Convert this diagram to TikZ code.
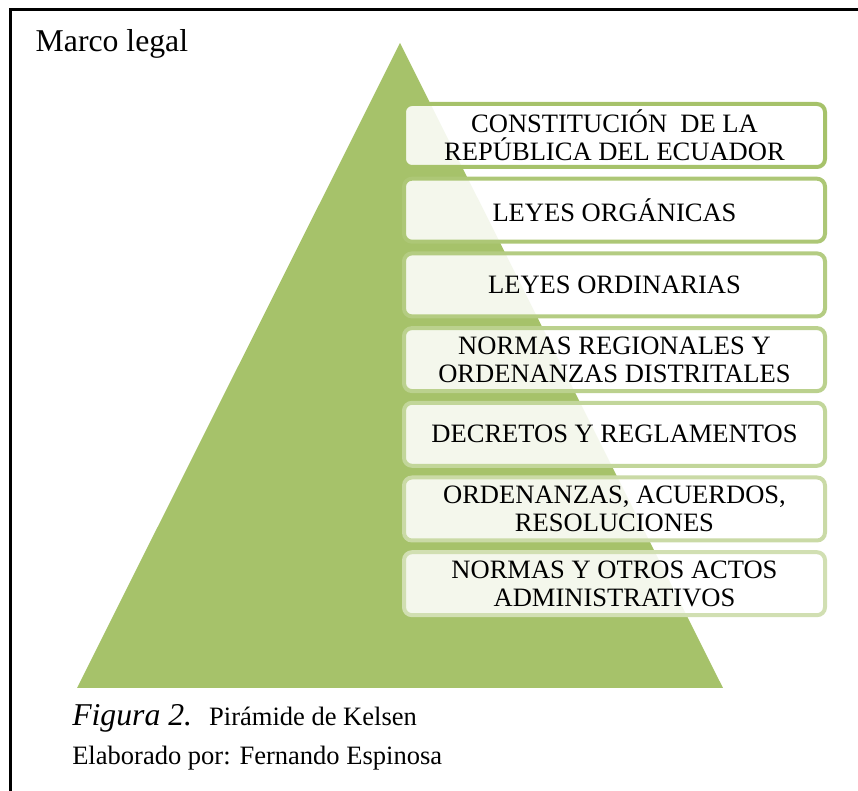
\documentclass[tikz,border=0pt]{standalone}
\usepackage{fontspec}
\setmainfont{Liberation Serif}
\definecolor{piramide}{RGB}{166,194,106}
\tikzset{
	%Define text size of the boxes
	letra/.style={font=\fontsize{19.9}{21}\selectfont},
	%Define style for the levels
	nivel/.style={
		rectangle,
		rounded corners=6pt,
		draw=piramide!#1!white, line width=3pt,
		fill=white, fill opacity=0.88, text opacity=1,
		minimum width=315.75pt,
		minimum height=47.25pt,
		inner sep=0pt,
		align=center,
		letra}
}

\begin{document}
\begin{tikzpicture}[x=0.75pt,y=-0.75pt]
	\useasboundingbox (0,0) rectangle (858,791);
	%frame
	\draw[line width=2.25pt] (858,10) -- (10,10) -- (10,791);
	\node[anchor=base west,font=\fontsize{23.8}{26}\selectfont] at (31,52) (titulo) {Marco legal};
	
	%pyramid
	\fill[piramide] (400,43) -- (77,688) -- (723,688) -- cycle;
	
	%levels, from top to bottom
	\node[nivel=100] at (614.5,135.5) (n1) {CONSTITUCIÓN~ DE LA\\REPÚBLICA DEL ECUADOR};
	\node[nivel=92] at (614.5,210.2) (n2) {LEYES ORGÁNICAS};
	\node[nivel=84] at (614.5,284.9) (n3) {LEYES ORDINARIAS};
	\node[nivel=76] at (614.5,359.6) (n4) {NORMAS REGIONALES Y\\ORDENANZAS DISTRITALES};
	\node[nivel=68] at (614.5,434.3) (n5) {DECRETOS Y REGLAMENTOS};
	\node[nivel=60] at (614.5,509.0) (n6) {ORDENANZAS, ACUERDOS,\\RESOLUCIONES};
	\node[nivel=52] at (614.5,583.7) (n7) {NORMAS Y OTROS ACTOS\\ADMINISTRATIVOS};
	
	%caption
	\node[anchor=base west,inner sep=0pt,letra] at (72,726) (pie) {{\fontsize{23.8}{26}\selectfont\itshape Figura 2.}\hspace{12.75pt}Pirámide de Kelsen};
	\node[anchor=base west,inner sep=0pt,letra] at (72,765) (autor) {Elaborado por: Fernando Espinosa};
\end{tikzpicture}
\end{document}
